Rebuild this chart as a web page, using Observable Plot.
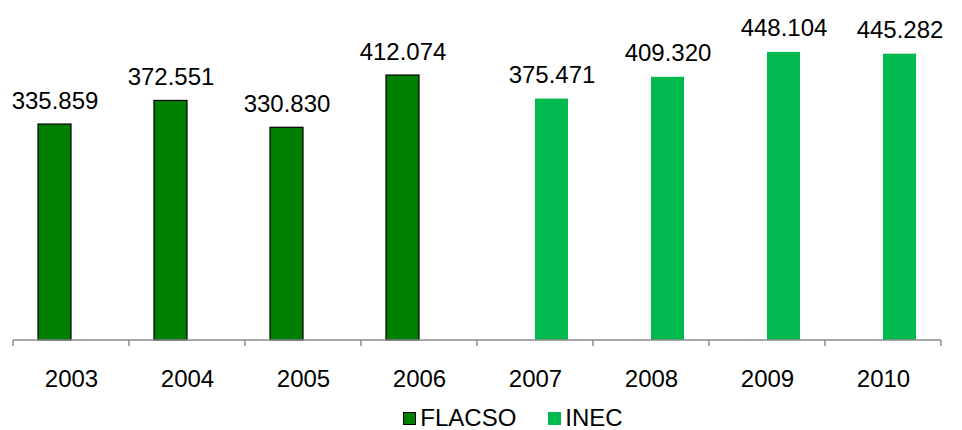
<!DOCTYPE html>
<html>
<head>
<meta charset="utf-8">
<script src="https://cdn.jsdelivr.net/npm/d3@7"></script>
<script src="https://cdn.jsdelivr.net/npm/@observablehq/plot@0.6"></script>
<style>
  html, body { margin: 0; padding: 0; background: #fff; }
  body { width: 962px; font-family: "Liberation Sans", Arial, sans-serif; }
  #chart svg { display: block; }
  #legend { display: flex; justify-content: center; align-items: center; height: 24px; font-size: 24px; color: #000; line-height: 24px; padding-left: 64px; box-sizing: border-box; width: 962px; }
  .item { display: flex; align-items: center; margin: 0 16px; }
  .sw { width: 13px; height: 13px; margin-right: 4px; box-sizing: border-box; }
</style>
</head>
<body>
<div id="chart"></div>
<div id="legend"></div>
<script>
const years = ["2003", "2004", "2005", "2006", "2007", "2008", "2009", "2010"];
const series = ["FLACSO", "INEC"];
const flacsoYears = ["2003", "2004", "2005", "2006"];
const flacsoValues = [335859, 372551, 330830, 412074];
const inecYears = ["2007", "2008", "2009", "2010"];
const inecValues = [375471, 409320, 448104, 445282];
const colors = {FLACSO: "#008000", INEC: "#00BA50"};

const flacso = flacsoYears.map((year, i) => ({year, value: flacsoValues[i], series: "FLACSO"}));
const inec = inecYears.map((year, i) => ({year, value: inecValues[i], series: "INEC"}));

const loc = d3.formatLocale({decimal: ",", thousands: ".", grouping: [3], currency: ["", ""]});
const fmt = loc.format(",d");

function axisMark(index, scales) {
  const x = scales.x, y = scales.y;
  const step = x(years[1]) - x(years[0]);
  const left = x(years[0]);
  const right = x(years[years.length - 1]) + step;
  const y0 = y(0);
  const g = d3.create("svg:g").attr("stroke", "#8c8c8c").attr("stroke-width", 1.5);
  g.append("line").attr("x1", left).attr("x2", right).attr("y1", y0).attr("y2", y0);
  const edges = years.map(yr => x(yr)).concat([right]);
  for (const e of edges) {
    g.append("line").attr("x1", e).attr("x2", e).attr("y1", y0).attr("y2", y0 + 6);
  }
  return g.node();
}

const chart = Plot.plot({
  width: 962,
  height: 406,
  marginTop: 18.5,
  marginBottom: 66,
  marginLeft: 13,
  marginRight: 21,
  style: {fontFamily: "'Liberation Sans', Arial, sans-serif", fontSize: "24px", color: "#000", background: "#fff"},
  x: {domain: years, padding: 0, tickSize: 0, tickPadding: 29, label: null},
  y: {domain: [0, 500000], axis: null},
  marks: [
    Plot.barY(flacso, {x: "year", y: "value", fill: colors.FLACSO, stroke: "#000", strokeWidth: 1.2, insetLeft: 25, insetRight: 58}),
    Plot.barY(inec, {x: "year", y: "value", fill: colors.INEC, insetLeft: 58, insetRight: 25}),
    Plot.text(flacso, {x: "year", y: "value", text: d => fmt(d.value), dx: -16.5, dy: -16, lineAnchor: "bottom", fill: "#000"}),
    Plot.text(inec, {x: "year", y: "value", text: d => fmt(d.value), dx: 16.5, dy: -16, lineAnchor: "bottom", fill: "#000"}),
    axisMark
  ]
});
document.getElementById("chart").appendChild(chart);

const legend = d3.select("#legend");
for (const s of series) {
  const item = legend.append("div").attr("class", "item");
  item.append("div").attr("class", "sw")
    .style("background", colors[s])
    .style("border", s === "FLACSO" ? "1.5px solid #000" : "none");
  item.append("span").text(s);
}
</script>
</body>
</html>
